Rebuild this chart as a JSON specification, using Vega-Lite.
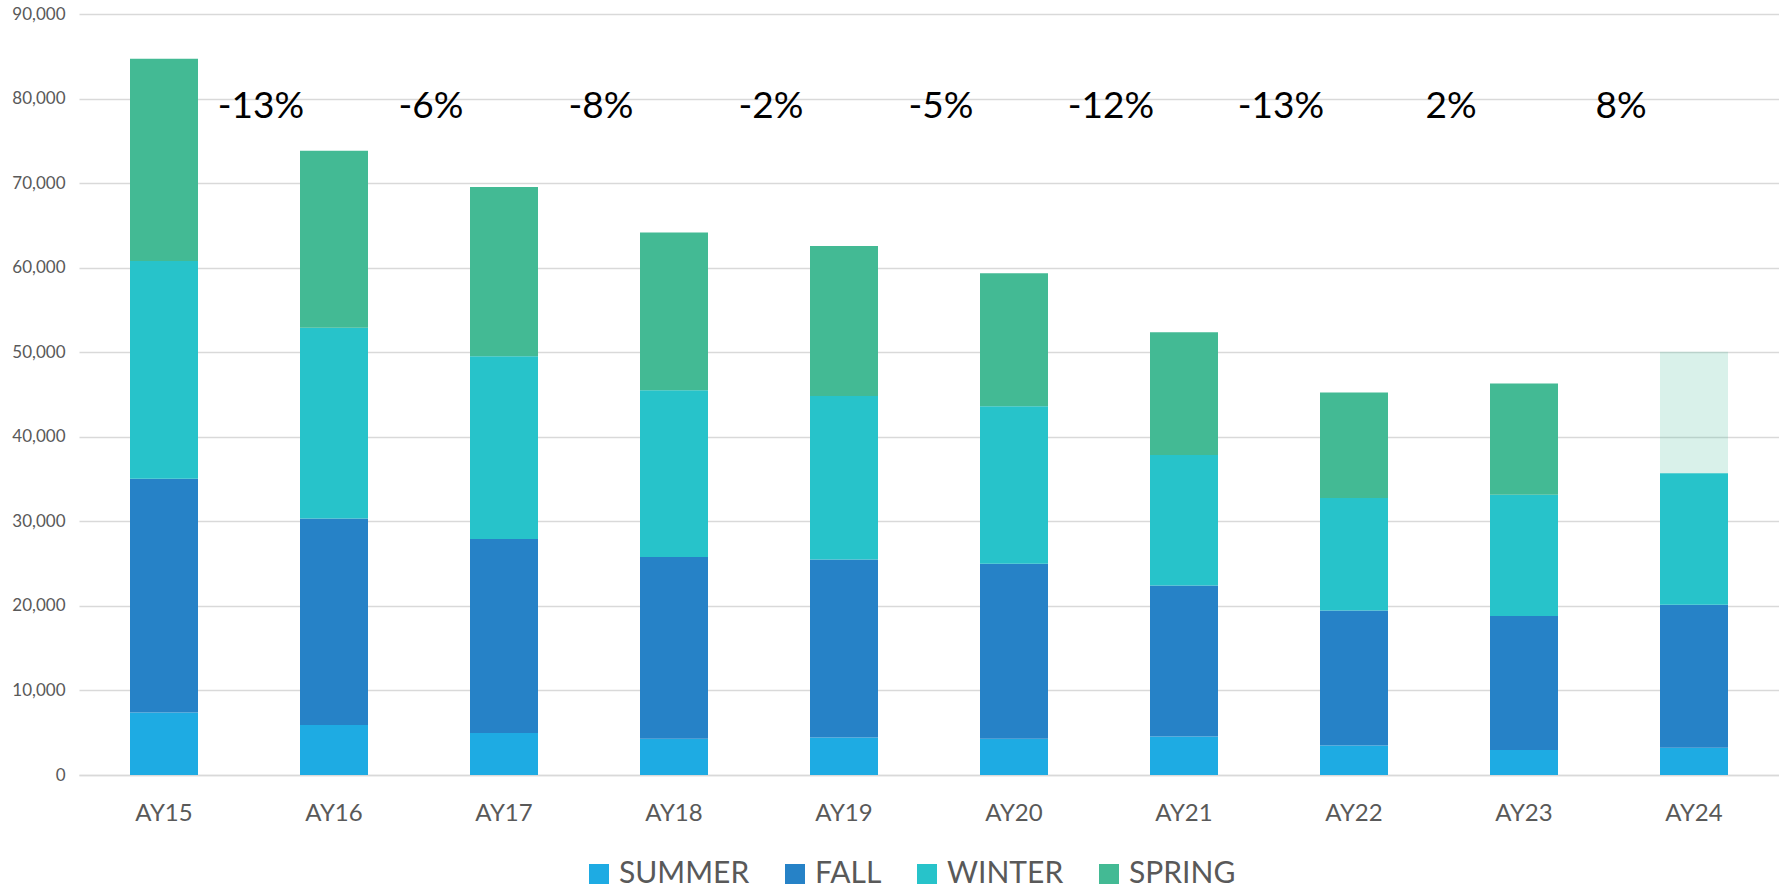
{
  "$schema": "https://vega.github.io/schema/vega-lite/v6.json",
  "autosize": {"type": "none"},
  "padding": {"left": 79, "top": 14, "right": 0, "bottom": 120},
  "width": 1700,
  "height": 761,
  "background": "white",
  "config": {
    "view": {"stroke": null},
    "font": "Lato"
  },
  "datasets": {
    "terms": [
      {"year": "AY15", "term": "SUMMER", "seq": 1, "value": 7380, "projected": "no"},
      {"year": "AY15", "term": "FALL", "seq": 2, "value": 27650, "projected": "no"},
      {"year": "AY15", "term": "WINTER", "seq": 3, "value": 25770, "projected": "no"},
      {"year": "AY15", "term": "SPRING", "seq": 4, "value": 23900, "projected": "no"},
      {"year": "AY16", "term": "SUMMER", "seq": 1, "value": 5900, "projected": "no"},
      {"year": "AY16", "term": "FALL", "seq": 2, "value": 24430, "projected": "no"},
      {"year": "AY16", "term": "WINTER", "seq": 3, "value": 22570, "projected": "no"},
      {"year": "AY16", "term": "SPRING", "seq": 4, "value": 20930, "projected": "no"},
      {"year": "AY17", "term": "SUMMER", "seq": 1, "value": 4970, "projected": "no"},
      {"year": "AY17", "term": "FALL", "seq": 2, "value": 22950, "projected": "no"},
      {"year": "AY17", "term": "WINTER", "seq": 3, "value": 21610, "projected": "no"},
      {"year": "AY17", "term": "SPRING", "seq": 4, "value": 20000, "projected": "no"},
      {"year": "AY18", "term": "SUMMER", "seq": 1, "value": 4300, "projected": "no"},
      {"year": "AY18", "term": "FALL", "seq": 2, "value": 21470, "projected": "no"},
      {"year": "AY18", "term": "WINTER", "seq": 3, "value": 19730, "projected": "no"},
      {"year": "AY18", "term": "SPRING", "seq": 4, "value": 18660, "projected": "no"},
      {"year": "AY19", "term": "SUMMER", "seq": 1, "value": 4430, "projected": "no"},
      {"year": "AY19", "term": "FALL", "seq": 2, "value": 21070, "projected": "no"},
      {"year": "AY19", "term": "WINTER", "seq": 3, "value": 19330, "projected": "no"},
      {"year": "AY19", "term": "SPRING", "seq": 4, "value": 17720, "projected": "no"},
      {"year": "AY20", "term": "SUMMER", "seq": 1, "value": 4300, "projected": "no"},
      {"year": "AY20", "term": "FALL", "seq": 2, "value": 20670, "projected": "no"},
      {"year": "AY20", "term": "WINTER", "seq": 3, "value": 18650, "projected": "no"},
      {"year": "AY20", "term": "SPRING", "seq": 4, "value": 15710, "projected": "no"},
      {"year": "AY21", "term": "SUMMER", "seq": 1, "value": 4560, "projected": "no"},
      {"year": "AY21", "term": "FALL", "seq": 2, "value": 17860, "projected": "no"},
      {"year": "AY21", "term": "WINTER", "seq": 3, "value": 15430, "projected": "no"},
      {"year": "AY21", "term": "SPRING", "seq": 4, "value": 14500, "projected": "no"},
      {"year": "AY22", "term": "SUMMER", "seq": 1, "value": 3490, "projected": "no"},
      {"year": "AY22", "term": "FALL", "seq": 2, "value": 15970, "projected": "no"},
      {"year": "AY22", "term": "WINTER", "seq": 3, "value": 13290, "projected": "no"},
      {"year": "AY22", "term": "SPRING", "seq": 4, "value": 12480, "projected": "no"},
      {"year": "AY23", "term": "SUMMER", "seq": 1, "value": 2950, "projected": "no"},
      {"year": "AY23", "term": "FALL", "seq": 2, "value": 15840, "projected": "no"},
      {"year": "AY23", "term": "WINTER", "seq": 3, "value": 14360, "projected": "no"},
      {"year": "AY23", "term": "SPRING", "seq": 4, "value": 13160, "projected": "no"},
      {"year": "AY24", "term": "SUMMER", "seq": 1, "value": 3220, "projected": "no"},
      {"year": "AY24", "term": "FALL", "seq": 2, "value": 16910, "projected": "no"},
      {"year": "AY24", "term": "WINTER", "seq": 3, "value": 15570, "projected": "no"},
      {"year": "AY24", "term": "SPRING", "seq": 4, "value": 14370, "projected": "yes"}
    ],
    "changes": [
      {"year": "AY16", "label": "-13%"},
      {"year": "AY17", "label": "-6%"},
      {"year": "AY18", "label": "-8%"},
      {"year": "AY19", "label": "-2%"},
      {"year": "AY20", "label": "-5%"},
      {"year": "AY21", "label": "-12%"},
      {"year": "AY22", "label": "-13%"},
      {"year": "AY23", "label": "2%"},
      {"year": "AY24", "label": "8%"}
    ]
  },
  "layer": [
    {
      "data": {"name": "terms"},
      "mark": {"type": "bar", "width": {"band": 0.4}},
      "encoding": {
        "x": {
          "field": "year", "type": "nominal",
          "scale": {"paddingInner": 0, "paddingOuter": 0},
          "axis": {
            "title": null, "labelAngle": 0, "ticks": false,
            "domain": true, "domainColor": "#d9d9d9", "domainWidth": 1.5,
            "labelFont": "Lato", "labelFontSize": 24, "labelColor": "#595959",
            "labelPadding": 26
          }
        },
        "y": {
          "field": "value", "type": "quantitative", "aggregate": "sum",
          "stack": "zero",
          "scale": {"domain": [0, 90000], "nice": false},
          "axis": {
            "title": null,
            "values": [0, 10000, 20000, 30000, 40000, 50000, 60000, 70000, 80000, 90000],
            "format": ",d", "ticks": false, "domain": false,
            "gridColor": "#d9d9d9", "gridWidth": 1.5,
            "labelFont": "Lato", "labelFontSize": 17, "labelColor": "#595959",
            "labelPadding": 14
          }
        },
        "order": {"field": "seq", "type": "quantitative", "aggregate": "min", "sort": "ascending"},
        "color": {
          "field": "term", "type": "nominal",
          "sort": ["SUMMER", "FALL", "WINTER", "SPRING"],
          "scale": {
            "domain": ["SUMMER", "FALL", "WINTER", "SPRING"],
            "range": ["#1EABE3", "#2682C7", "#27C3CA", "#43BA94"]
          },
          "legend": {
            "title": null, "orient": "none", "direction": "horizontal",
            "legendX": 505, "legendY": 845,
            "symbolType": "square", "symbolSize": 400, "symbolStrokeWidth": 0,
            "labelFont": "Lato", "labelFontSize": 30, "labelColor": "#595959",
            "labelOffset": 5, "columnPadding": 30
          }
        },
        "opacity": {
          "field": "projected", "type": "nominal",
          "scale": {"domain": ["no", "yes"], "range": [1, 0.2]},
          "legend": null
        }
      }
    },
    {
      "data": {"name": "changes"},
      "mark": {"type": "text", "fontSize": 37, "font": "Lato", "color": "#000000", "align": "center", "baseline": "middle", "dx": 12},
      "encoding": {
        "x": {"field": "year", "type": "nominal", "bandPosition": 0},
        "y": {"datum": 79000, "type": "quantitative"},
        "text": {"field": "label"}
      }
    }
  ]
}
